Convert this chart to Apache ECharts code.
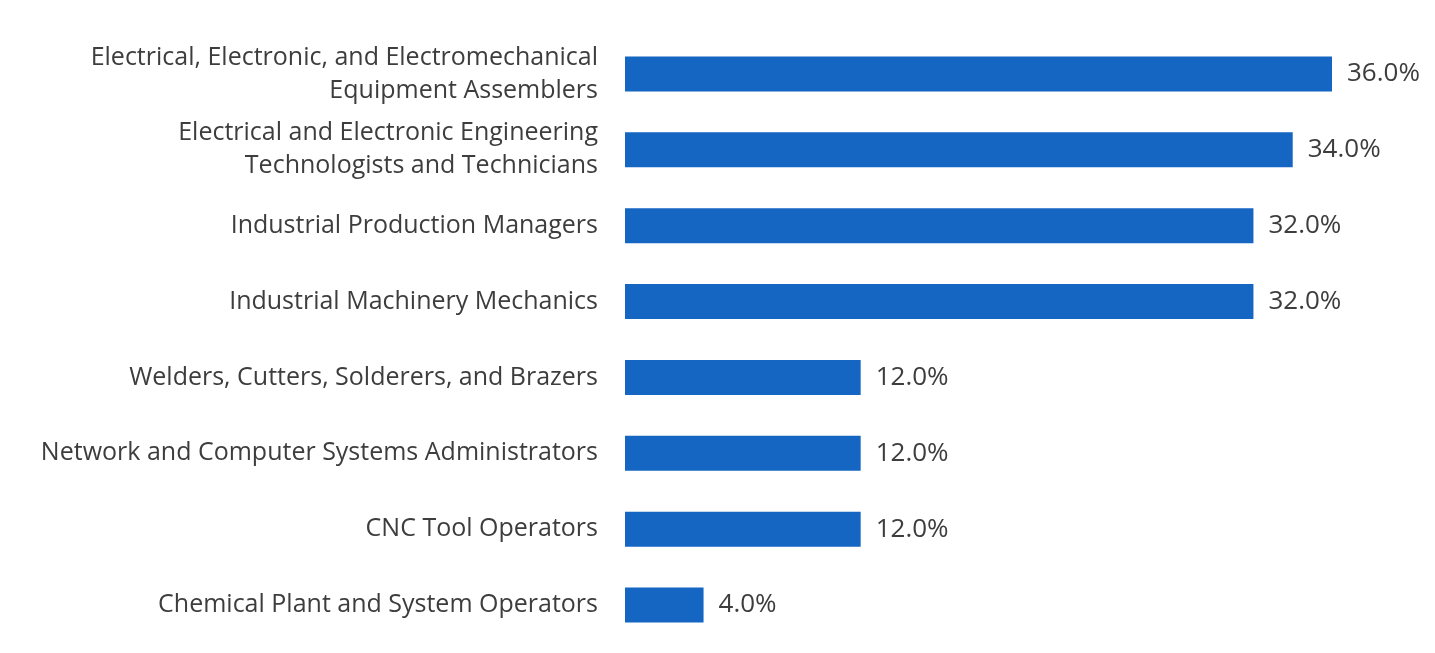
<!DOCTYPE html>
<html>
<head>
<meta charset="utf-8">
<script src="https://cdn.jsdelivr.net/npm/echarts@6/dist/echarts.min.js"></script>
<style>
  html, body { margin: 0; padding: 0; background: #ffffff; }
  #chart { width: 1435px; height: 653px; }
</style>
</head>
<body>
<div id="chart"></div>
<script>
// Occupations, listed top to bottom
const occupations = [
  'Electrical, Electronic, and Electromechanical\nEquipment Assemblers',
  'Electrical and Electronic Engineering\nTechnologists and Technicians',
  'Industrial Production Managers',
  'Industrial Machinery Mechanics',
  'Welders, Cutters, Solderers, and Brazers',
  'Network and Computer Systems Administrators',
  'CNC Tool Operators',
  'Chemical Plant and System Operators'
];
// Share of respondents, percent
const shares = [36.0, 34.0, 32.0, 32.0, 12.0, 12.0, 12.0, 4.0];

const chart = echarts.init(document.getElementById('chart'), null, { renderer: 'canvas' });

chart.setOption({
  backgroundColor: '#ffffff',
  animation: false,
  grid: { left: 625, top: 36, width: 707, height: 607, containLabel: false },
  xAxis: {
    type: 'value',
    min: 0,
    max: 36,
    show: false
  },
  yAxis: {
    type: 'category',
    inverse: true,
    data: occupations,
    axisLine: { show: false },
    axisTick: { show: false },
    axisLabel: {
      margin: 27,
      align: 'right',
      color: '#3d3d3d',
      fontFamily: 'Open Sans',
      fontSize: 25,
      lineHeight: 33
    }
  },
  series: [{
    type: 'bar',
    data: shares,
    barWidth: 35,
    itemStyle: { color: '#1565c2' },
    label: {
      show: true,
      position: 'right',
      distance: 15,
      color: '#3d3d3d',
      fontFamily: 'Open Sans',
      fontSize: 26,
      formatter: p => p.value.toFixed(1) + '%'
    }
  }]
});
</script>
</body>
</html>
